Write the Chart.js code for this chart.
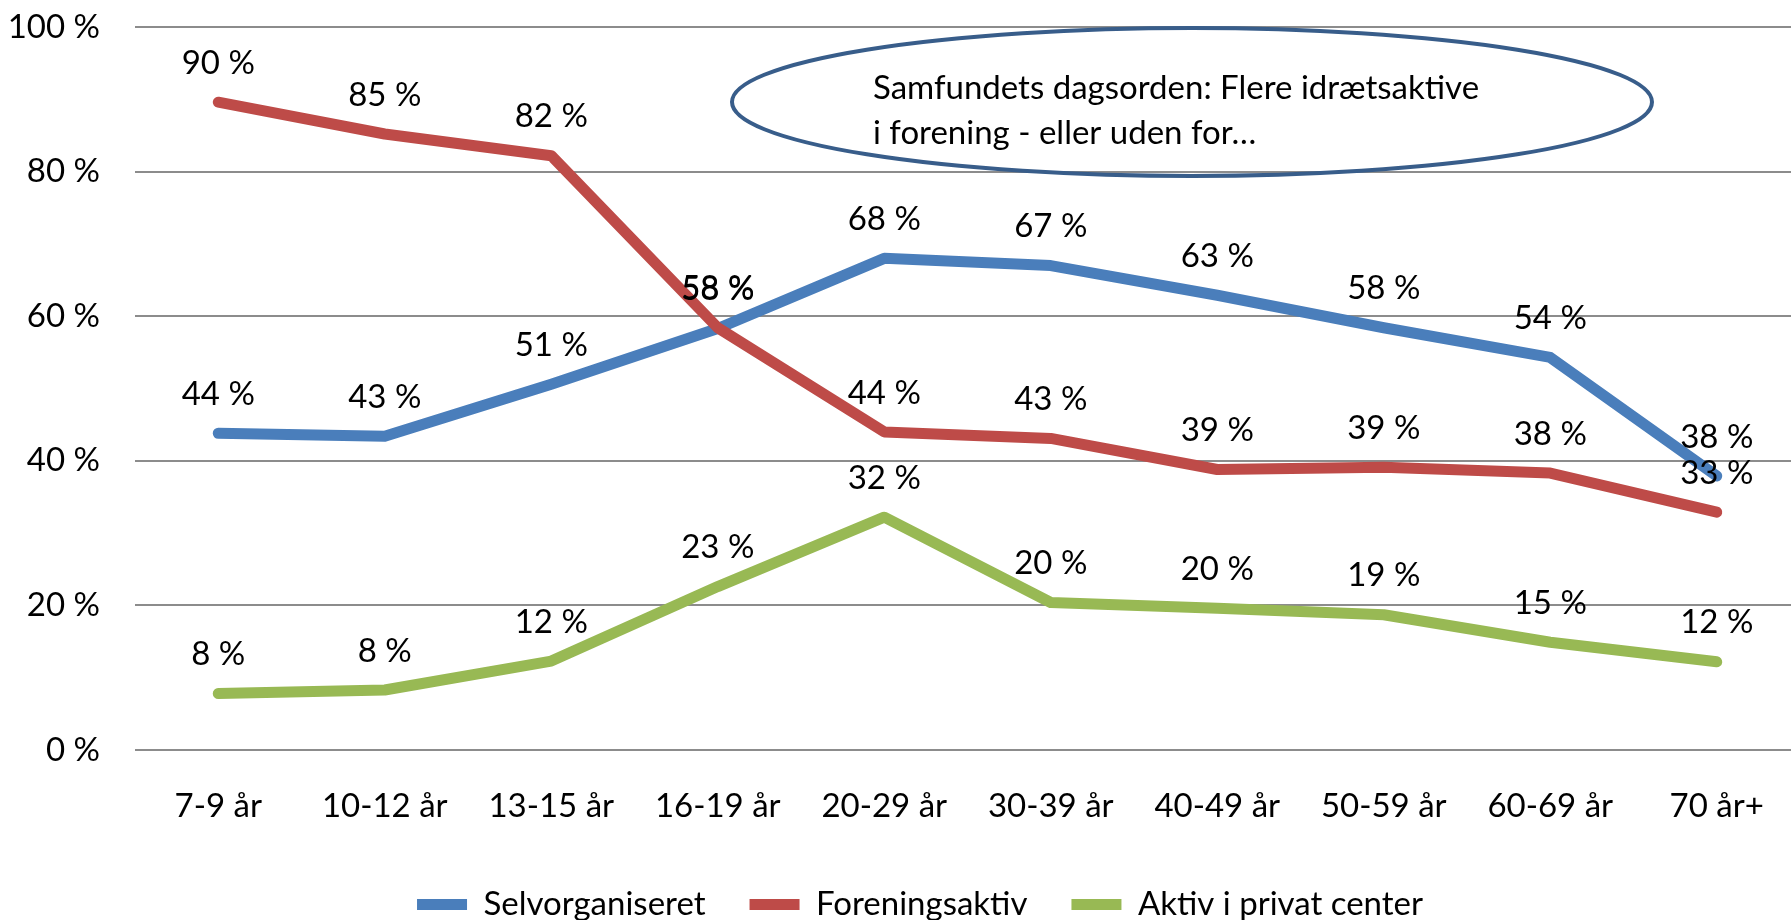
<!DOCTYPE html>
<html>
<head>
<meta charset="utf-8">
<script src="https://cdn.jsdelivr.net/npm/chart.js@4"></script>
<style>
  html, body { margin:0; padding:0; background:#fff; overflow:hidden; }
  canvas { display:block; }
</style>
</head>
<body>
<canvas id="c" width="1800" height="931"></canvas>
<script>
// age groups + series (share of each group, %)
const categories = ["7-9 år","10-12 år","13-15 år","16-19 år","20-29 år","30-39 år","40-49 år","50-59 år","60-69 år","70 år+"];
const selvorganiseret = [43.8, 43.4, 50.6, 58.3, 68.0, 67.0, 62.9, 58.4, 54.3, 37.9];
const foreningsaktiv  = [89.6, 85.2, 82.2, 58.4, 44.0, 43.1, 38.8, 39.1, 38.3, 32.9];
const privatCenter    = [7.8, 8.3, 12.3, 22.6, 32.2, 20.4, 19.6, 18.7, 14.9, 12.2];
const yTicks = [0, 20, 40, 60, 80, 100];
const noteLines = ["Samfundets dagsorden: Flere idrætsaktive", "i forening - eller uden for…"];

const FONT = "Lato";

// value labels above each point
const valueLabels = {
  id: "valueLabels",
  afterDatasetsDraw(chart) {
    const ctx = chart.ctx;
    ctx.save();
    ctx.font = "33px " + FONT;
    ctx.fillStyle = "#000";
    ctx.textAlign = "center";
    ctx.textBaseline = "middle";
    chart.data.datasets.forEach((ds, i) => {
      chart.getDatasetMeta(i).data.forEach((pt, j) => {
        ctx.fillText(Math.round(ds.data[j]) + " %", pt.x, pt.y - 39);
      });
    });
    ctx.restore();
  }
};

// the ellipse note in the top right
const note = {
  id: "note",
  afterLayout(chart) {
    // nudge legend a bit right, like the original
    chart.legend.left += 20;
    chart.legend.right += 20;
  },
  afterDraw(chart) {
    const ctx = chart.ctx, a = chart.chartArea;
    ctx.save();
    ctx.strokeStyle = "#385D8A";
    ctx.lineWidth = 4;
    ctx.beginPath();
    ctx.ellipse(a.left + 1057, a.top + 75, 460, 74, 0, 0, Math.PI * 2);
    ctx.stroke();
    ctx.font = "33px " + FONT;
    ctx.fillStyle = "#000";
    ctx.textBaseline = "middle";
    ctx.fillText(noteLines[0], a.left + 738, a.top + 61);
    ctx.fillText(noteLines[1], a.left + 738, a.top + 106);
    ctx.restore();
  }
};

const line = (label, data, color, order) => ({
  label, data, order,
  borderColor: color, backgroundColor: color,
  borderWidth: 11, borderCapStyle: "round", borderJoinStyle: "round",
  pointRadius: 0, tension: 0
});

new Chart(document.getElementById("c"), {
  type: "line",
  data: {
    labels: categories,
    datasets: [
      line("Selvorganiseret", selvorganiseret, "#4A7EBB", 3),
      line("Foreningsaktiv", foreningsaktiv, "#BE4B48", 2),
      line("Aktiv i privat center", privatCenter, "#98B954", 1)
    ]
  },
  options: {
    responsive: false,
    animation: false,
    layout: { padding: 0 },
    plugins: {
      tooltip: { enabled: false },
      legend: {
        position: "bottom",
        labels: {
          color: "#000", font: { family: FONT, size: 33 },
          usePointStyle: true, pointStyle: "line", pointStyleWidth: 50,
          padding: 44,
          sort: (a, b) => a.datasetIndex - b.datasetIndex
        }
      }
    },
    scales: {
      x: {
        offset: true,
        grid: { display: false },
        border: { display: false },
        ticks: { color: "#000", font: { family: FONT, size: 33 }, padding: 29, maxRotation: 0 },
        afterFit(s) { s.height = 94; }
      },
      y: {
        min: 0, max: 100,
        afterBuildTicks(s) { s.ticks = yTicks.map(v => ({ value: v })); },
        grid: { color: "#8C8C8C", lineWidth: 2, drawTicks: false },
        border: { display: false },
        ticks: { color: "#000", font: { family: FONT, size: 33 }, padding: 35, callback: v => v + " %" },
        afterFit(s) { s.width = 135; s.paddingTop = 27; }
      }
    }
  },
  plugins: [valueLabels, note]
});
</script>
</body>
</html>
